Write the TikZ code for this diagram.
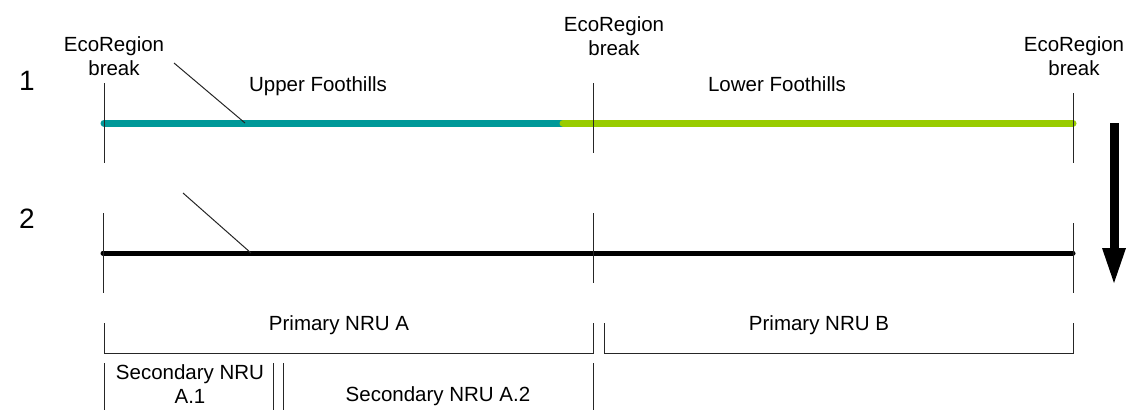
\documentclass[tikz,border=0pt]{standalone}
\usepackage{fontspec}
\setmainfont{Liberation Sans}
\definecolor{teal1}{RGB}{0,153,153}
\definecolor{lime1}{RGB}{153,204,0}
\begin{document}
\begin{tikzpicture}[x=1pt,y=-1pt,
  lbl/.style={font=\fontsize{20.5}{23.3}\selectfont, inner sep=0pt, anchor=base, align=center},
  num/.style={font=\fontsize{28}{30}\selectfont, inner sep=0pt, anchor=base},
  thin/.style={line width=1pt, black!85},
  band/.style={line width=7pt, line cap=round},
  blk/.style={line width=5pt, line cap=round, black}]
\useasboundingbox (0,0) rectangle (1127,410);
% row labels
\node[num] (n1) at (27,90.7) {1};
\node[num] (n2) at (27,228) {2};
% ecoregion labels (base = last line)
\node[lbl] (e1) at (114,75) {EcoRegion\\break};
\node[lbl] (e2) at (614,55) {EcoRegion\\break};
\node[lbl] (e3) at (1074,75) {EcoRegion\\break};
\node[lbl] (uf) at (318,91.7) {Upper Foothills};
\node[lbl] (lf) at (777,91.7) {Lower Foothills};
% row 1
\coordinate (r1a) at (104,123);
\coordinate (r1m) at (563,123);
\coordinate (r1b) at (1073,123);
\draw[band, teal1] (r1a) -- (r1m);
\draw[band, lime1] (r1m) -- (r1b);
\coordinate (v1at) at (104,83);  \coordinate (v1ab) at (104,163);
\coordinate (v1mt) at (593,83);  \coordinate (v1mb) at (593,153);
\coordinate (v1bt) at (1073,93); \coordinate (v1bb) at (1073,163);
\draw[thin] (v1at) -- (v1ab);
\draw[thin] (v1mt) -- (v1mb);
\draw[thin] (v1bt) -- (v1bb);
\coordinate (d1s) at (174,63); \coordinate (d1e) at (245,123);
\draw[thin] (d1s) -- (d1e);
% row 2
\coordinate (r2a) at (103,253);
\coordinate (r2b) at (1073,253);
\draw[blk] (r2a) -- (r2b);
\coordinate (v2at) at (103.5,213);  \coordinate (v2ab) at (103.5,293);
\coordinate (v2mt) at (593,213);  \coordinate (v2mb) at (593,283);
\coordinate (v2bt) at (1073,223); \coordinate (v2bb) at (1073,293);
\draw[thin] (v2at) -- (v2ab);
\draw[thin] (v2mt) -- (v2mb);
\draw[thin] (v2bt) -- (v2bb);
\coordinate (d2s) at (183,193); \coordinate (d2e) at (251,253);
\draw[thin] (d2s) -- (d2e);
% arrow
\coordinate (at) at (1114,123);
\coordinate (ab) at (1114,248);
\coordinate (ahl) at (1102,248);
\coordinate (ahr) at (1126,248);
\coordinate (atip) at (1114,283);
\draw[line width=9pt, black] (at) -- (ab);
\fill[black] (ahl) -- (ahr) -- (atip) -- cycle;
% primary brackets
\coordinate (pa1) at (104,323); \coordinate (pa2) at (104,353);
\coordinate (pa3) at (593,353); \coordinate (pa4) at (593,323);
\draw[thin] (pa1) -- (pa2) -- (pa3) -- (pa4);
\coordinate (pb1) at (604,323); \coordinate (pb2) at (604,353);
\coordinate (pb3) at (1073,353); \coordinate (pb4) at (1073,323);
\draw[thin] (pb1) -- (pb2) -- (pb3) -- (pb4);
\node[lbl] (pna) at (339,330.7) {Primary NRU A};
\node[lbl] (pnb) at (819,330.7) {Primary NRU B};
% secondary
\coordinate (s1t) at (104,363); \coordinate (s1b) at (104,410);
\coordinate (s2t) at (273,363); \coordinate (s2b) at (273,410);
\coordinate (s3t) at (283,363); \coordinate (s3b) at (283,410);
\coordinate (s4t) at (593,363); \coordinate (s4b) at (593,410);
\draw[thin] (s1t) -- (s1b);
\draw[thin] (s2t) -- (s2b);
\draw[thin] (s3t) -- (s3b);
\draw[thin] (s4t) -- (s4b);
\node[lbl] (sa1) at (190,403) {Secondary NRU\\A.1};
\node[lbl] (sa2) at (438,401.7) {Secondary NRU A.2};
\end{tikzpicture}
\end{document}
